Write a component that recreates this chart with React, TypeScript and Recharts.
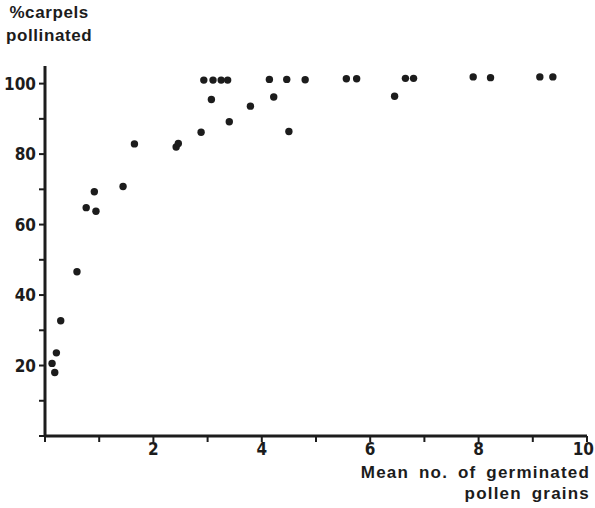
import React from 'react';
import { ScatterChart, Scatter, XAxis, YAxis } from 'recharts';

// Mean number of germinated pollen grains per carpel
const meanGerminated = [
  0.13, 0.18, 0.21, 0.29, 0.59,
  0.76, 0.91, 0.94, 1.44, 1.65,
  2.42, 2.46, 2.88, 2.93, 3.07, 3.10, 3.25, 3.37, 3.40,
  3.79, 4.14, 4.22, 4.46, 4.50, 4.80,
  5.56, 5.75, 6.45, 6.65, 6.80,
  7.90, 8.22, 9.13, 9.37,
];

// Percentage of carpels pollinated
const pctPollinated = [
  20.6, 18.0, 23.6, 32.7, 46.6,
  64.8, 69.3, 63.8, 70.8, 82.9,
  82.0, 83.0, 86.2, 101.0, 95.5, 101.0, 101.0, 101.0, 89.2,
  93.6, 101.2, 96.2, 101.2, 86.4, 101.1,
  101.4, 101.4, 96.4, 101.5, 101.5,
  101.9, 101.7, 101.9, 101.9,
];

const xTicks = [0, 1, 2, 3, 4, 5, 6, 7, 8, 9, 10];
const yTicks = [0, 10, 20, 30, 40, 50, 60, 70, 80, 90, 100];
const xLabelled = [2, 4, 6, 8, 10];
const yLabelled = [20, 40, 60, 80, 100];

const points = meanGerminated.map((x, i) => ({ x, y: pctPollinated[i] }));

const INK = '#1c1c1c';
const tickFont = "'Liberation Sans Narrow', 'DejaVu Sans Condensed', 'Liberation Sans', Arial, sans-serif";
const titleFont = "'Liberation Sans', Arial, Helvetica, sans-serif";

const Dot = (props: any) => (
  <circle cx={props.cx} cy={props.cy} r={3.7} fill={INK} />
);

// X tick label; the last one is pulled in so it stays inside the page
const XTick = (props: any) => {
  const { x, y, payload } = props;
  const v = payload.value as number;
  if (!xLabelled.includes(v)) return null;
  const last = v === xTicks[xTicks.length - 1];
  return (
    <text
      x={last ? 594 : x}
      y={y}
      dy={10}
      textAnchor={last ? 'end' : 'middle'}
      fill={INK}
      fontFamily={tickFont}
      fontWeight="bold"
      fontSize={17}
    >
      {v}
    </text>
  );
};

export default function App() {
  return (
    <div style={{ position: 'absolute', left: 0, top: 0, width: 595, height: 508, background: '#fff' }}>
      <ScatterChart
        width={595}
        height={508}
        margin={{ top: 66, right: 8, bottom: 42, left: 0 }}
      >
        <XAxis
          type="number"
          dataKey="x"
          domain={[0, 10]}
          ticks={xTicks}
          interval={0}
          axisLine={{ stroke: INK, strokeWidth: 3 }}
          tickLine={{ stroke: INK, strokeWidth: 2 }}
          tickSize={6}
          tickMargin={3}
          height={30}
          tick={<XTick />}
          allowDataOverflow
        />
        <YAxis
          type="number"
          dataKey="y"
          domain={[0, 105]}
          ticks={yTicks}
          interval={0}
          tickFormatter={(v: number) => (yLabelled.includes(v) ? String(v) : '')}
          axisLine={{ stroke: INK, strokeWidth: 3 }}
          tickLine={{ stroke: INK, strokeWidth: 2 }}
          tickSize={6}
          tickMargin={3}
          width={45}
          tick={{ fill: INK, fontFamily: tickFont, fontWeight: 'bold', fontSize: 17 }}
          allowDataOverflow
        />
        <Scatter data={points} shape={Dot} isAnimationActive={false} />
      </ScatterChart>

      <div
        style={{
          position: 'absolute', left: 6, top: 1, fontFamily: titleFont, fontWeight: 'bold',
          fontSize: 17, lineHeight: '23px', color: INK, textAlign: 'center', letterSpacing: 0.6,
        }}
      >
        %carpels<br />pollinated
      </div>
      <div
        style={{
          position: 'absolute', right: 5, top: 462, fontFamily: titleFont, fontWeight: 'bold',
          fontSize: 17, lineHeight: '21px', color: INK, textAlign: 'right',
          letterSpacing: 1.2, wordSpacing: 4, whiteSpace: 'nowrap',
        }}
      >
        Mean no. of germinated<br />pollen grains
      </div>
    </div>
  );
}
